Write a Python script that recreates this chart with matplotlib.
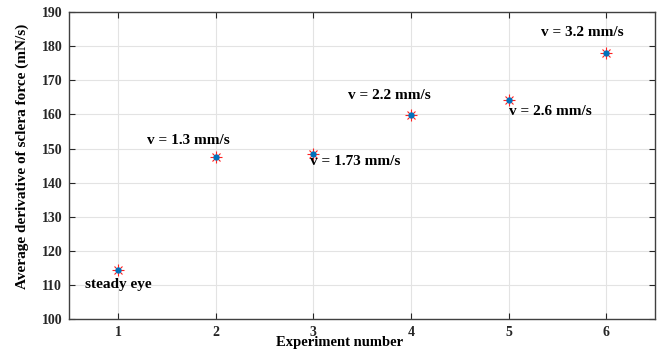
import matplotlib
matplotlib.use("Agg")
import matplotlib.pyplot as plt

plt.rcParams['font.family'] = ['Liberation Serif', 'DejaVu Serif']
plt.rcParams['font.weight'] = 'bold'

experiments = [1, 2, 3, 4, 5, 6]
derivative = [114.5, 147.4, 148.3, 159.8, 164.2, 178.1]

labels = ['steady eye', 'v = 1.3 mm/s', 'v = 1.73 mm/s', 'v = 2.2 mm/s',
          'v = 2.6 mm/s', 'v = 3.2 mm/s']
label_x = [0.66, 1.3, 2.97, 3.36, 5.0, 5.33]
label_y = [110.3, 152.3, 146.1, 165.5, 160.8, 184.1]

fig, ax = plt.subplots(figsize=(6.59, 3.51), dpi=100)
fig.subplots_adjust(left=0.105, right=0.994, top=0.966, bottom=0.09)

# MATLAB style asterisk: plus + cross overlaid
ax.plot(experiments, derivative, linestyle='none', marker='+', color='#ff2020',
        markersize=8, markeredgewidth=0.8)
ax.plot(experiments, derivative, linestyle='none', marker='x', color='#ff2020',
        markersize=6, markeredgewidth=0.8)
ax.plot(experiments, derivative, linestyle='none', marker='o', color='#0072bd',
        markersize=3.5)

for tx, ty, s in zip(label_x, label_y, labels):
    ax.text(tx, ty, s, fontsize=11, fontweight='bold', va='center', ha='left')

ax.set_xlim(0.5, 6.5)
ax.set_ylim(100, 190)
ax.set_xticks(experiments)
ax.set_yticks(range(100, 191, 10))
ax.grid(True, color='#e3e3e3', linewidth=0.8)
ax.set_axisbelow(True)
ax.tick_params(direction='in', top=True, right=True, labelsize=10, colors='#262626',
               length=4, width=0.8, pad=5)
for sp in ax.spines.values():
    sp.set_color('#404040')
    sp.set_linewidth(1.0)

ax.set_xlabel('Experiment number', fontsize=10.5, fontweight='bold')
ax.xaxis.set_label_coords(0.462, -0.055)
ax.set_ylabel('Average derivative of sclera force (mN/s)', fontsize=11,
              fontweight='bold')
ax.yaxis.set_label_coords(-0.068, 0.53)

fig.savefig('out.png', dpi=100)
